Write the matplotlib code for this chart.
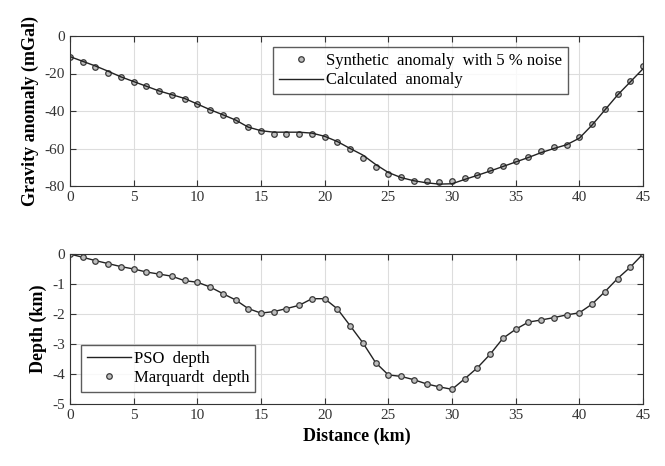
import matplotlib
matplotlib.use("Agg")
import matplotlib.pyplot as plt

plt.rcParams['font.family'] = ['Liberation Serif', 'DejaVu Serif']
plt.rcParams['axes.unicode_minus'] = False

# distance along profile (km)
dist = list(range(0, 46))

# synthetic gravity anomaly with noise (mGal)
grav_obs = [-11.1, -13.8, -16.4, -19.5, -22.1, -24.3, -26.8, -29.5, -31.3, -33.8,
            -36.4, -39.3, -42.1, -45.0, -48.4, -50.7, -52.0, -52.0, -52.3, -52.0,
            -53.6, -56.3, -60.4, -65.2, -70.0, -73.6, -75.4, -77.1, -77.3, -77.9,
            -77.3, -75.7, -74.1, -71.4, -69.5, -66.8, -64.5, -61.4, -59.3, -58.2,
            -54.1, -46.8, -38.8, -30.7, -23.8, -15.9]

# calculated anomaly (mGal)
grav_calc = [-11.0, -13.5, -16.0, -18.8, -21.8, -24.3, -26.8, -29.3, -31.3, -33.3,
             -36.3, -39.3, -42.0, -44.8, -48.6, -50.5, -51.3, -51.3, -51.3, -51.8,
             -53.5, -56.3, -60.0, -63.5, -68.5, -72.8, -75.5, -77.2, -78.3, -79.0,
             -78.8, -76.5, -74.3, -72.0, -69.6, -67.2, -64.8, -62.2, -60.0, -58.0,
             -54.5, -47.5, -39.5, -31.5, -24.5, -17.5]

# basement depth (km)
pso_depth = [0.00, -0.11, -0.22, -0.32, -0.42, -0.50, -0.60, -0.67, -0.74, -0.89,
             -0.94, -1.10, -1.32, -1.53, -1.82, -1.97, -1.92, -1.82, -1.71, -1.49,
             -1.49, -1.83, -2.39, -2.96, -3.62, -4.03, -4.08, -4.19, -4.33, -4.43,
             -4.51, -4.16, -3.79, -3.34, -2.81, -2.51, -2.27, -2.20, -2.12, -2.03,
             -1.96, -1.67, -1.26, -0.82, -0.44, 0.00]
marq_depth = [0.00, -0.11, -0.22, -0.32, -0.42, -0.50, -0.60, -0.67, -0.74, -0.88,
              -0.94, -1.10, -1.32, -1.53, -1.82, -1.97, -1.92, -1.82, -1.71, -1.49,
              -1.49, -1.83, -2.39, -2.96, -3.62, -4.03, -4.08, -4.19, -4.33, -4.43,
              -4.51, -4.16, -3.79, -3.34, -2.81, -2.51, -2.27, -2.20, -2.12, -2.03,
              -1.96, -1.67, -1.26, -0.82, -0.44, 0.00]

xticks = [0, 5, 10, 15, 20, 25, 30, 35, 40, 45]

fig = plt.figure(figsize=(6.65, 4.66), dpi=100)
ax1 = fig.add_axes([70/665, 1 - 186/466, 573/665, 150/466])
ax2 = fig.add_axes([70/665, 1 - 404/466, 573/665, 150/466])

mk = dict(marker='o', ls='none', ms=4.0, mfc='#bdbdbd', mec='#3a3a3a', mew=0.9)

ax1.plot(dist, grav_obs, label='Synthetic  anomaly  with 5 % noise', **mk)
ax1.plot(dist, grav_calc, color='#222222', lw=1.0, label='Calculated  anomaly')
ax1.set_ylim(-80, 0)
ax1.set_yticks([-80, -60, -40, -20, 0])
ax1.set_ylabel('Gravity anomaly (mGal)', fontsize=13, fontweight='bold')
leg1 = ax1.legend(loc='upper left', bbox_to_anchor=(0.355, 0.925), fontsize=12,
                  fancybox=False, edgecolor='#333333', handlelength=2.6,
                  handletextpad=0.2, borderpad=0.35, labelspacing=0.2,
                  borderaxespad=0)

ax2.plot(dist, pso_depth, color='#222222', lw=1.0, label='PSO  depth')
ax2.plot(dist, marq_depth, label='Marquardt  depth', **mk)
ax2.set_ylim(-5, 0)
ax2.set_yticks([-5, -4, -3, -2, -1, 0])
ax2.set_ylabel('Depth (km)', fontsize=13, fontweight='bold')
ax2.set_xlabel('Distance (km)', fontsize=13, fontweight='bold')
leg2 = ax2.legend(loc='lower left', bbox_to_anchor=(0.02, 0.08), fontsize=12,
                  fancybox=False, edgecolor='#333333', handlelength=2.6,
                  handletextpad=0.2, borderpad=0.35, labelspacing=0.2,
                  borderaxespad=0)

for ax in (ax1, ax2):
    ax.set_xlim(0, 45)
    ax.set_xticks(xticks)
    ax.grid(True, color='#dddddd', lw=0.8)
    ax.set_axisbelow(True)
    ax.tick_params(direction='in', top=True, right=True, length=4,
                   labelsize=11, labelcolor='#333333', color='#333333')
    for s in ax.spines.values():
        s.set_color('#333333')

fig.savefig('out.png', dpi=100)
